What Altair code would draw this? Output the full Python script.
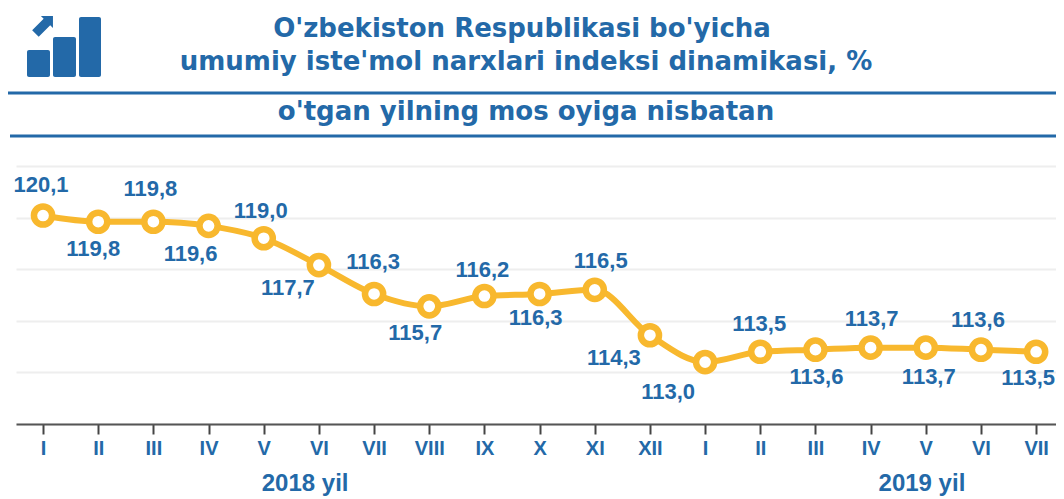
import json
import altair as alt
import pandas as pd

months = ["I","II","III","IV","V","VI","VII","VIII","IX","X","XI","XII","I","II","III","IV","V","VI","VII"]
values = [120.1,119.8,119.8,119.6,119.0,117.7,116.3,115.7,116.2,116.3,116.5,114.3,113.0,113.5,113.6,113.7,113.7,113.6,113.5]
labels = [f"{v:.1f}".replace(".", ",") for v in values]
years = ["2018 yil", "2019 yil"]
year_pos = [4.75, 15.93]
title_lines = ["O'zbekiston Respublikasi bo'yicha", "umumiy iste'mol narxlari indeksi dinamikasi, %", "o'tgan yilning mos oyiga nisbatan"]

label_offsets = [(-2,-31),(-5,27),(-3,-33),(-18,28),(-3,-27),(-31,23),(-1,-32),(-14,27),(-2,-26),(-4,24),
                 (6,-29),(-36,23),(-37,30),(-1,-28),(1,27),(1,-29),(3,29),(-3,-30),(-8,26)]

BLUE = "#2369A8"
GOLD = "#F8B82E"
FONT = "Liberation Sans"

df = pd.DataFrame({"i": range(len(values)), "v": values, "label": labels})
one = alt.Data(values=[{}])

xs = alt.Scale(domain=[-0.49, 18.36], nice=False, zero=False)
ys = alt.Scale(domain=[110, 122.5], nice=False, zero=False)
X = alt.X("i:Q", scale=xs, title=None, axis=alt.Axis(
    values=list(range(len(months))),
    labelExpr=json.dumps(months) + "[datum.value]",
    grid=False, title=None, domainColor="#555555", domainWidth=2,
    tickColor="#444444", tickSize=10, tickWidth=2,
    labelFont=FONT, labelFontSize=20, labelFontWeight="bold", labelColor=BLUE,
    labelPadding=4, labelOverlap=False, labelFlush=False))
Y = alt.Y("v:Q", scale=ys, title=None, axis=alt.Axis(
    values=[110, 112.5, 115, 117.5, 120, 122.5], labels=False, ticks=False, domain=False,
    title=None, grid=True, gridColor="#EEEEEE", gridWidth=2))

line = alt.Chart(df).mark_line(color=GOLD, strokeWidth=6, interpolate="monotone").encode(x=X, y=Y)
pts = alt.Chart(df).mark_point(filled=True, fill="white", stroke=GOLD, strokeWidth=6.5, size=330, opacity=1).encode(x=X, y=Y)

layers = [line, pts]
for i, (dx, dy) in enumerate(label_offsets):
    layers.append(alt.Chart(df.iloc[[i]]).mark_text(
        font=FONT, fontSize=22, fontWeight="bold", color=BLUE, dx=dx, dy=dy
    ).encode(x=X, y=Y, text="label:N"))

year_df = pd.DataFrame({"i": year_pos, "t": years})
layers.append(alt.Chart(year_df).mark_text(font=FONT, fontSize=24, fontWeight="bold", color=BLUE).encode(
    x=X, y=alt.value(318), text="t:N"))

# header rules
for (x0, py) in [(-8, 93), (-6, 136)]:
    layers.append(alt.Chart(one).mark_rule(color=BLUE, strokeWidth=3).encode(
        x=alt.value(x0), x2=alt.value(1040), y=alt.value(py - 166)))

# header text
for line_text, cx, cy in zip(title_lines, [522, 526, 526], [29, 62, 112]):
    layers.append(alt.Chart(alt.Data(values=[{"t": line_text}])).mark_text(
        font="DejaVu Sans", fontSize=26, fontWeight="bold", color=BLUE, align="center", baseline="middle"
    ).encode(x=alt.value(cx - 16), y=alt.value(cy - 166), text="t:N"))

# icon
for (a, b, t) in [(27, 50, 50), (53, 76, 37), (79, 101, 17)]:
    layers.append(alt.Chart(one).mark_rect(color=BLUE, cornerRadius=2).encode(
        x=alt.value(a - 16), x2=alt.value(b - 16), y=alt.value(t - 166), y2=alt.value(77 - 166)))
arrow = "M1,-1 L1,0.1 L0.75,-0.15 L-0.3,0.9 L-0.9,0.3 L0.15,-0.75 L-0.1,-1 Z"
layers.append(alt.Chart(one).mark_point(shape=arrow, filled=True, color=BLUE, size=480, opacity=1).encode(
    x=alt.value(42 - 16), y=alt.value(27 - 166)))

chart = alt.layer(*layers).properties(
    width=1040, height=258, background="white",
    padding={"left": 8, "top": 158, "right": 0, "bottom": 75},
    autosize=alt.AutoSizeParams(type="none"),
).configure_view(stroke=None, strokeWidth=0)

chart.save("out.html", embed_options={"renderer": "svg", "actions": False})
